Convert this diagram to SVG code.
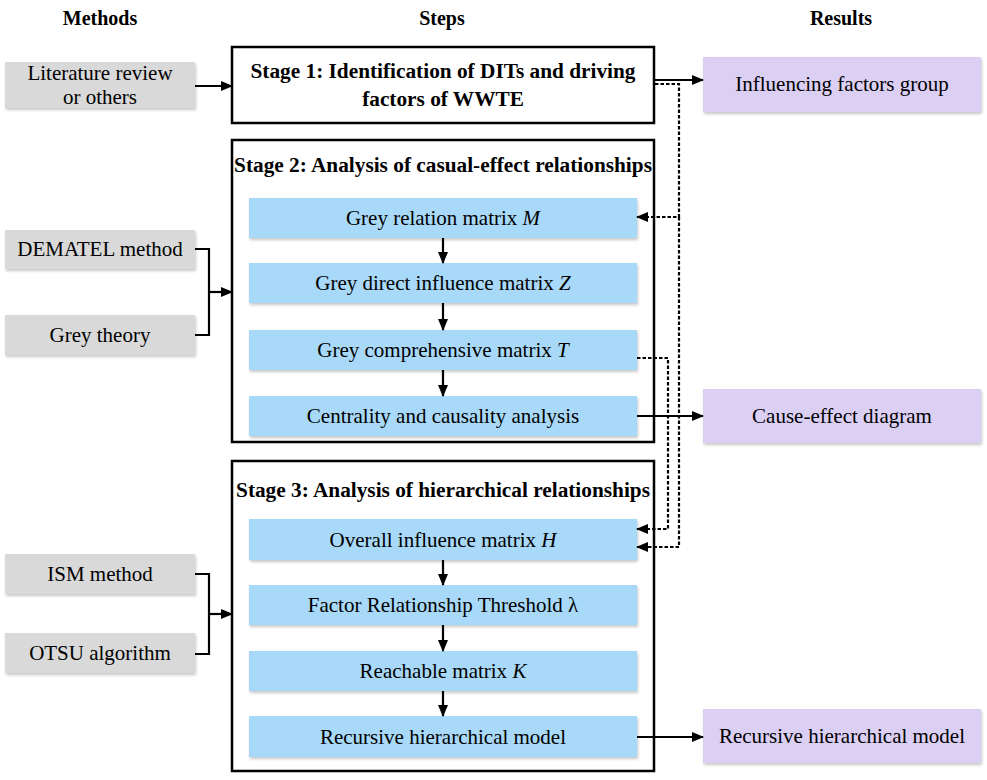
<svg xmlns="http://www.w3.org/2000/svg" width="987" height="780" viewBox="0 0 987 780">
<defs>
<filter id="sh" x="-5%" y="-20%" width="110%" height="150%">
<feDropShadow dx="1" dy="2" stdDeviation="1.5" flood-color="#000" flood-opacity="0.22"/>
</filter>
<marker id="ah" viewBox="0 0 12 10" refX="11" refY="5" markerWidth="12" markerHeight="10" markerUnits="userSpaceOnUse" orient="auto">
<path d="M0,0 L12,5 L0,10 z" fill="#000"/>
</marker>
</defs>
<style>
text{font-family:"Liberation Serif","Times New Roman","DejaVu Serif",serif;fill:#000;}
.h{font-size:20px;font-weight:bold;text-anchor:middle;}
.g{font-size:21.3px;font-weight:bold;text-anchor:middle;}
.t{font-size:21px;text-anchor:middle;}
.i{font-style:italic;}
.m{fill:#D9D9D9;filter:url(#sh);}
.s{fill:#A9D9F8;filter:url(#sh);}
.r{fill:#DCCFF4;filter:url(#sh);}
.st{fill:#fff;stroke:#000;stroke-width:2.5;}
.c{fill:none;stroke:#000;stroke-width:2.2;}
.d{fill:none;stroke:#000;stroke-width:2.2;stroke-dasharray:3.5,2;}
</style>

<g id="headers">
<text class="h" x="100" y="25">Methods</text>
<text class="h" x="442" y="25">Steps</text>
<text class="h" x="841" y="25">Results</text>
</g>

<g id="m-lit"><rect class="m" x="5" y="62" width="190" height="46"/>
<text class="t" x="100" y="80">Literature review</text><text class="t" x="100" y="104">or others</text></g>
<g id="m-dematel"><rect class="m" x="5" y="230" width="190" height="39"/><text class="t" x="100" y="256">DEMATEL method</text></g>
<g id="m-grey"><rect class="m" x="5" y="315" width="190" height="40"/><text class="t" x="100" y="342">Grey theory</text></g>
<g id="m-ism"><rect class="m" x="5" y="554" width="190" height="40"/><text class="t" x="100" y="581">ISM method</text></g>
<g id="m-otsu"><rect class="m" x="5" y="633" width="190" height="40"/><text class="t" x="100" y="660">OTSU algorithm</text></g>

<g id="stage1"><rect class="st" x="232" y="47" width="422" height="76"/>
<text class="g" x="443" y="78">Stage 1: Identification of DITs and driving</text>
<text class="g" x="443" y="106">factors of WWTE</text></g>

<g id="stage2"><rect class="st" x="232" y="140" width="422" height="302"/>
<text class="g" x="443" y="172">Stage 2: Analysis of casual-effect relationships</text></g>
<g id="s-grm"><rect class="s" x="249" y="198" width="388" height="40"/><text class="t" x="443" y="225">Grey relation matrix <tspan class="i">M</tspan></text></g>
<g id="s-gdim"><rect class="s" x="249" y="263" width="388" height="40"/><text class="t" x="443" y="290">Grey direct influence matrix <tspan class="i">Z</tspan></text></g>
<g id="s-gcm"><rect class="s" x="249" y="330" width="388" height="40"/><text class="t" x="443" y="357">Grey comprehensive matrix <tspan class="i">T</tspan></text></g>
<g id="s-cca"><rect class="s" x="249" y="396" width="388" height="40"/><text class="t" x="443" y="423">Centrality and causality analysis</text></g>

<g id="stage3"><rect class="st" x="232" y="461" width="422" height="310"/>
<text class="g" x="443" y="497">Stage 3: Analysis of hierarchical relationships</text></g>
<g id="s-oim"><rect class="s" x="249" y="519" width="388" height="41"/><text class="t" x="443" y="547">Overall influence matrix <tspan class="i">H</tspan></text></g>
<g id="s-frt"><rect class="s" x="249" y="585" width="388" height="40"/><text class="t" x="443" y="612">Factor Relationship Threshold  λ</text></g>
<g id="s-rm"><rect class="s" x="249" y="651" width="388" height="40"/><text class="t" x="443" y="678">Reachable matrix <tspan class="i">K</tspan></text></g>
<g id="s-rhm"><rect class="s" x="249" y="716" width="388" height="41"/><text class="t" x="443" y="744">Recursive hierarchical model</text></g>

<g id="r-ifg"><rect class="r" x="703" y="57" width="278" height="55"/><text class="t" x="842" y="91">Influencing factors group</text></g>
<g id="r-ced"><rect class="r" x="703" y="389" width="278" height="54"/><text class="t" x="842" y="423">Cause-effect diagram</text></g>
<g id="r-rhm"><rect class="r" x="703" y="709" width="278" height="54"/><text class="t" x="842" y="743">Recursive hierarchical model</text></g>

<g id="connectors">
<line class="c" x1="195" y1="86" x2="232" y2="86" marker-end="url(#ah)"/>
<polyline class="c" points="195,249 209,249 209,335 195,335"/>
<line class="c" x1="209" y1="292" x2="232" y2="292" marker-end="url(#ah)"/>
<polyline class="c" points="195,574 209,574 209,654 195,654"/>
<line class="c" x1="209" y1="614" x2="232" y2="614" marker-end="url(#ah)"/>
<line class="c" x1="443" y1="238" x2="443" y2="263" marker-end="url(#ah)"/>
<line class="c" x1="443" y1="303" x2="443" y2="330" marker-end="url(#ah)"/>
<line class="c" x1="443" y1="370" x2="443" y2="396" marker-end="url(#ah)"/>
<line class="c" x1="443" y1="560" x2="443" y2="585" marker-end="url(#ah)"/>
<line class="c" x1="443" y1="625" x2="443" y2="651" marker-end="url(#ah)"/>
<line class="c" x1="443" y1="691" x2="443" y2="716" marker-end="url(#ah)"/>
<line class="c" x1="654" y1="80" x2="703" y2="80" marker-end="url(#ah)"/>
<line class="c" x1="637" y1="416" x2="703" y2="416" marker-end="url(#ah)"/>
<line class="c" x1="637" y1="737" x2="703" y2="737" marker-end="url(#ah)"/>
<polyline class="d" points="655,84 679,84 679,217 637,217" marker-end="url(#ah)"/>
<polyline class="d" points="679,217 679,547 637,547" marker-end="url(#ah)"/>
<polyline class="d" points="637,358 668,358 668,529 637,529" marker-end="url(#ah)"/>
</g>
</svg>
